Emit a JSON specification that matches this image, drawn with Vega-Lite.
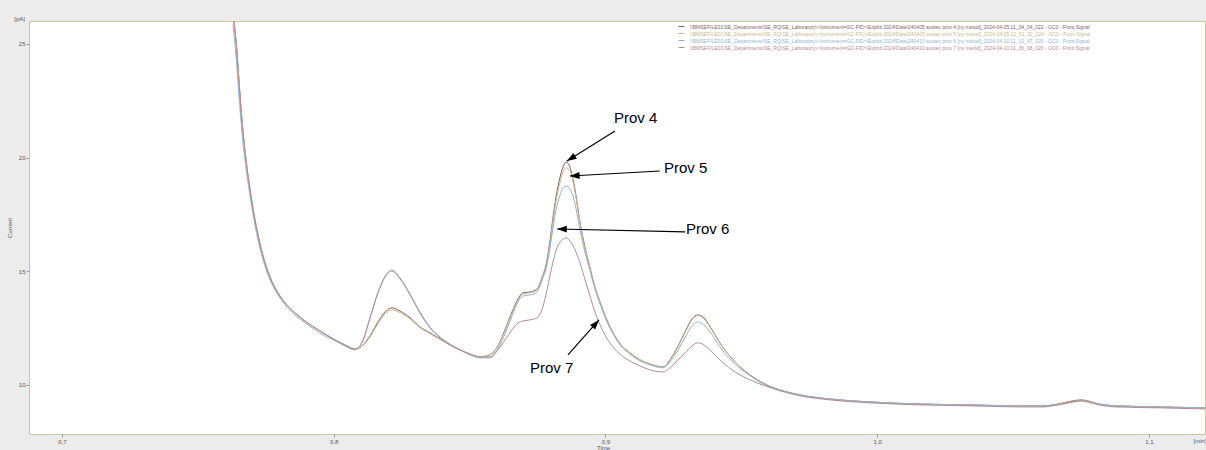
{
  "$schema": "https://vega.github.io/schema/vega-lite/v6.json",
  "width": 1176,
  "height": 413,
  "autosize": {"type": "none"},
  "padding": {"left": 29, "top": 21, "right": 1, "bottom": 16},
  "background": "#ececec",
  "config": {
    "font": "Liberation Sans",
    "view": {"fill": "white", "stroke": "#cfc49a", "strokeWidth": 1},
    "axis": {
      "domain": false,
      "grid": false,
      "tickSize": 3,
      "tickColor": "#9a9a9a",
      "labelFontSize": 6,
      "labelColor": "#555555",
      "labelPadding": 1,
      "titleFontSize": 6,
      "titleFontWeight": "normal",
      "titleColor": "#555555"
    }
  },
  "datasets": {
    "trace": [
      {"t": 0.7629, "p4": 26.28, "p5": 26.30, "p6": 25.84, "p7": 26.26},
      {"t": 0.7640, "p4": 25.18, "p5": 25.20, "p6": 24.52, "p7": 25.15},
      {"t": 0.7651, "p4": 23.42, "p5": 23.45, "p6": 22.76, "p7": 23.40},
      {"t": 0.7662, "p4": 21.66, "p5": 21.70, "p6": 21.13, "p7": 21.64},
      {"t": 0.7677, "p4": 19.90, "p5": 19.95, "p6": 19.55, "p7": 19.88},
      {"t": 0.7692, "p4": 18.58, "p5": 18.62, "p6": 18.31, "p7": 18.56},
      {"t": 0.7710, "p4": 17.26, "p5": 17.30, "p6": 17.04, "p7": 17.25},
      {"t": 0.7732, "p4": 16.03, "p5": 16.06, "p6": 15.85, "p7": 16.02},
      {"t": 0.7758, "p4": 14.97, "p5": 15.00, "p6": 14.84, "p7": 14.96},
      {"t": 0.7788, "p4": 14.18, "p5": 14.20, "p6": 14.09, "p7": 14.17},
      {"t": 0.7821, "p4": 13.61, "p5": 13.62, "p6": 13.52, "p7": 13.60},
      {"t": 0.7857, "p4": 13.17, "p5": 13.18, "p6": 13.08, "p7": 13.16},
      {"t": 0.7894, "p4": 12.81, "p5": 12.82, "p6": 12.73, "p7": 12.80},
      {"t": 0.7931, "p4": 12.51, "p5": 12.52, "p6": 12.42, "p7": 12.50},
      {"t": 0.7968, "p4": 12.24, "p5": 12.25, "p6": 12.15, "p7": 12.23},
      {"t": 0.8005, "p4": 11.98, "p5": 11.99, "p6": 11.94, "p7": 11.97},
      {"t": 0.8041, "p4": 11.76, "p5": 11.77, "p6": 11.71, "p7": 11.75},
      {"t": 0.8078, "p4": 11.58, "p5": 11.60, "p6": 11.54, "p7": 11.57},
      {"t": 0.8104, "p4": 11.71, "p5": 11.70, "p6": 11.89, "p7": 11.85},
      {"t": 0.8133, "p4": 12.15, "p5": 12.10, "p6": 12.95, "p7": 12.90},
      {"t": 0.8163, "p4": 12.77, "p5": 12.70, "p6": 14.09, "p7": 14.05},
      {"t": 0.8189, "p4": 13.21, "p5": 13.12, "p6": 14.79, "p7": 14.75},
      {"t": 0.8214, "p4": 13.39, "p5": 13.30, "p6": 15.06, "p7": 15.01},
      {"t": 0.8244, "p4": 13.25, "p5": 13.18, "p6": 14.71, "p7": 14.66},
      {"t": 0.8281, "p4": 12.95, "p5": 12.90, "p6": 14.00, "p7": 13.96},
      {"t": 0.8317, "p4": 12.55, "p5": 12.52, "p6": 13.21, "p7": 13.17},
      {"t": 0.8354, "p4": 12.29, "p5": 12.26, "p6": 12.55, "p7": 12.51},
      {"t": 0.8391, "p4": 12.02, "p5": 12.00, "p6": 12.11, "p7": 12.07},
      {"t": 0.8428, "p4": 11.76, "p5": 11.75, "p6": 11.80, "p7": 11.76},
      {"t": 0.8465, "p4": 11.54, "p5": 11.53, "p6": 11.54, "p7": 11.54},
      {"t": 0.8501, "p4": 11.36, "p5": 11.35, "p6": 11.32, "p7": 11.36},
      {"t": 0.8538, "p4": 11.23, "p5": 11.24, "p6": 11.19, "p7": 11.23},
      {"t": 0.8575, "p4": 11.32, "p5": 11.33, "p6": 11.19, "p7": 11.23},
      {"t": 0.8604, "p4": 11.71, "p5": 11.70, "p6": 11.58, "p7": 11.54},
      {"t": 0.8630, "p4": 12.42, "p5": 12.38, "p6": 12.24, "p7": 11.98},
      {"t": 0.8656, "p4": 13.21, "p5": 13.15, "p6": 13.03, "p7": 12.42},
      {"t": 0.8678, "p4": 13.78, "p5": 13.72, "p6": 13.65, "p7": 12.73},
      {"t": 0.8696, "p4": 14.05, "p5": 14.00, "p6": 13.91, "p7": 12.81},
      {"t": 0.8722, "p4": 14.09, "p5": 14.05, "p6": 13.96, "p7": 12.86},
      {"t": 0.8748, "p4": 14.22, "p5": 14.18, "p6": 14.09, "p7": 12.95},
      {"t": 0.8766, "p4": 14.71, "p5": 14.66, "p6": 14.57, "p7": 13.30},
      {"t": 0.8785, "p4": 15.50, "p5": 15.41, "p6": 15.28, "p7": 14.18},
      {"t": 0.8796, "p4": 16.38, "p5": 16.25, "p6": 16.03, "p7": 14.84},
      {"t": 0.8807, "p4": 17.39, "p5": 17.21, "p6": 16.91, "p7": 15.41},
      {"t": 0.8818, "p4": 18.27, "p5": 18.09, "p6": 17.70, "p7": 15.90},
      {"t": 0.8833, "p4": 19.15, "p5": 18.93, "p6": 18.36, "p7": 16.29},
      {"t": 0.8844, "p4": 19.59, "p5": 19.37, "p6": 18.67, "p7": 16.42},
      {"t": 0.8855, "p4": 19.81, "p5": 19.55, "p6": 18.75, "p7": 16.47},
      {"t": 0.8869, "p4": 19.59, "p5": 19.42, "p6": 18.62, "p7": 16.33},
      {"t": 0.8888, "p4": 18.58, "p5": 18.49, "p6": 17.96, "p7": 15.94},
      {"t": 0.8906, "p4": 17.17, "p5": 17.13, "p6": 16.82, "p7": 15.37},
      {"t": 0.8925, "p4": 16.03, "p5": 15.98, "p6": 15.81, "p7": 14.62},
      {"t": 0.8943, "p4": 15.15, "p5": 15.15, "p6": 15.02, "p7": 13.91},
      {"t": 0.8961, "p4": 14.31, "p5": 14.31, "p6": 14.22, "p7": 13.21},
      {"t": 0.8980, "p4": 13.65, "p5": 13.65, "p6": 13.56, "p7": 12.64},
      {"t": 0.9002, "p4": 12.95, "p5": 12.95, "p6": 12.86, "p7": 12.11},
      {"t": 0.9028, "p4": 12.29, "p5": 12.29, "p6": 12.24, "p7": 11.67},
      {"t": 0.9057, "p4": 11.76, "p5": 11.76, "p6": 11.71, "p7": 11.32},
      {"t": 0.9090, "p4": 11.41, "p5": 11.41, "p6": 11.36, "p7": 11.05},
      {"t": 0.9127, "p4": 11.10, "p5": 11.10, "p6": 11.05, "p7": 10.83},
      {"t": 0.9164, "p4": 10.92, "p5": 10.92, "p6": 10.88, "p7": 10.66},
      {"t": 0.9212, "p4": 10.79, "p5": 10.79, "p6": 10.75, "p7": 10.57},
      {"t": 0.9237, "p4": 11.10, "p5": 11.08, "p6": 11.01, "p7": 10.75},
      {"t": 0.9267, "p4": 11.71, "p5": 11.68, "p6": 11.54, "p7": 11.10},
      {"t": 0.9296, "p4": 12.42, "p5": 12.38, "p6": 12.15, "p7": 11.45},
      {"t": 0.9318, "p4": 12.90, "p5": 12.86, "p6": 12.60, "p7": 11.71},
      {"t": 0.9340, "p4": 13.08, "p5": 13.05, "p6": 12.77, "p7": 11.85},
      {"t": 0.9362, "p4": 12.95, "p5": 12.92, "p6": 12.64, "p7": 11.76},
      {"t": 0.9392, "p4": 12.42, "p5": 12.40, "p6": 12.20, "p7": 11.45},
      {"t": 0.9429, "p4": 11.71, "p5": 11.70, "p6": 11.54, "p7": 11.01},
      {"t": 0.9477, "p4": 11.01, "p5": 11.00, "p6": 10.92, "p7": 10.57},
      {"t": 0.9532, "p4": 10.44, "p5": 10.43, "p6": 10.40, "p7": 10.22},
      {"t": 0.9587, "p4": 10.04, "p5": 10.03, "p6": 10.00, "p7": 9.96},
      {"t": 0.9642, "p4": 9.78, "p5": 9.77, "p6": 9.78, "p7": 9.74},
      {"t": 0.9716, "p4": 9.56, "p5": 9.55, "p6": 9.56, "p7": 9.52},
      {"t": 0.9826, "p4": 9.38, "p5": 9.37, "p6": 9.38, "p7": 9.34},
      {"t": 0.9973, "p4": 9.25, "p5": 9.24, "p6": 9.25, "p7": 9.21},
      {"t": 1.0157, "p4": 9.16, "p5": 9.15, "p6": 9.16, "p7": 9.12},
      {"t": 1.0341, "p4": 9.12, "p5": 9.11, "p6": 9.12, "p7": 9.08},
      {"t": 1.0525, "p4": 9.08, "p5": 9.07, "p6": 9.08, "p7": 9.03},
      {"t": 1.0610, "p4": 9.08, "p5": 9.07, "p6": 9.08, "p7": 9.03},
      {"t": 1.0665, "p4": 9.16, "p5": 9.15, "p6": 9.12, "p7": 9.12},
      {"t": 1.0720, "p4": 9.30, "p5": 9.28, "p6": 9.25, "p7": 9.25},
      {"t": 1.0750, "p4": 9.34, "p5": 9.32, "p6": 9.30, "p7": 9.30},
      {"t": 1.0775, "p4": 9.30, "p5": 9.29, "p6": 9.25, "p7": 9.25},
      {"t": 1.0815, "p4": 9.16, "p5": 9.15, "p6": 9.16, "p7": 9.12},
      {"t": 1.0880, "p4": 9.08, "p5": 9.07, "p6": 9.08, "p7": 9.03},
      {"t": 1.1041, "p4": 9.03, "p5": 9.02, "p6": 9.03, "p7": 8.99},
      {"t": 1.1210, "p4": 8.99, "p5": 8.98, "p6": 8.99, "p7": 8.94}
    ],
    "names": [
      {"key": "p4", "name": "\\\\BMSEFILE01\\SE_Departments\\SE_RQ\\SE_Laboratory\\<Instrument=GC-FID>\\Expbb 2024\\Data\\240405 axotec prov 4 [ny metod]_2024-04-05 11_34_04_022 - GC0 - Front Signal"},
      {"key": "p5", "name": "\\\\BMSEFILE01\\SE_Departments\\SE_RQ\\SE_Laboratory\\<Instrument=GC-FID>\\Expbb 2024\\Data\\240405 axotec prov 5 [ny metod]_2024-04-05 12_51_32_024 - GC0 - Front Signal"},
      {"key": "p6", "name": "\\\\BMSEFILE01\\SE_Departments\\SE_RQ\\SE_Laboratory\\<Instrument=GC-FID>\\Expbb 2024\\Data\\240410 axotec prov 6 [ny metod]_2024-04-10 11_12_47_025 - GC0 - Front Signal"},
      {"key": "p7", "name": "\\\\BMSEFILE01\\SE_Departments\\SE_RQ\\SE_Laboratory\\<Instrument=GC-FID>\\Expbb 2024\\Data\\240410 axotec prov 7 [ny metod]_2024-04-10 11_36_08_026 - GC0 - Front Signal"}
    ],
    "notes": [
      {"label": "Prov 4", "tx": 0.9031, "ty": 21.74, "x0": 0.9035, "y0": 21.17, "x1": 0.8858, "y1": 19.85},
      {"label": "Prov 5", "tx": 0.9215, "ty": 19.55, "x0": 0.9200, "y0": 19.41, "x1": 0.8869, "y1": 19.19},
      {"label": "Prov 6", "tx": 0.9296, "ty": 16.86, "x0": 0.9293, "y0": 16.73, "x1": 0.8822, "y1": 16.86},
      {"label": "Prov 7", "tx": 0.8722, "ty": 10.75, "x0": 0.8862, "y0": 11.32, "x1": 0.8976, "y1": 12.86}
    ],
    "units": [
      {"label": "[pA]", "ux": 0.6844, "uy": 26.10},
      {"label": "[min]", "ux": 1.1188, "uy": 7.53}
    ]
  },
  "layer": [
    {
      "data": {"name": "trace"},
      "transform": [
        {"fold": ["p4", "p5", "p6", "p7"], "as": ["key", "current"]},
        {"lookup": "key", "from": {"data": {"name": "names"}, "key": "key", "fields": ["name"]}}
      ],
      "mark": {"type": "line", "strokeWidth": 1, "interpolate": "monotone", "clip": true},
      "encoding": {
        "x": {
          "field": "t", "type": "quantitative",
          "scale": {"domain": [0.68786, 1.12061], "nice": false, "zero": false},
          "axis": {
            "values": [0.7, 0.8, 0.9, 1.0, 1.1],
            "labelExpr": "replace(format(datum.value, '.1f'), '.', ',')",
            "title": "Time",
            "titleX": 574,
            "titleY": 13,
            "titleBaseline": "middle"
          }
        },
        "y": {
          "field": "current", "type": "quantitative",
          "scale": {"domain": [7.84, 26.01], "nice": false, "zero": false},
          "axis": {
            "values": [10, 15, 20, 25],
            "format": "d",
            "title": "Current",
            "titleX": -17
          }
        },
        "color": {
          "field": "name", "type": "nominal",
          "scale": {
            "domain": [
              "\\\\BMSEFILE01\\SE_Departments\\SE_RQ\\SE_Laboratory\\<Instrument=GC-FID>\\Expbb 2024\\Data\\240405 axotec prov 4 [ny metod]_2024-04-05 11_34_04_022 - GC0 - Front Signal",
              "\\\\BMSEFILE01\\SE_Departments\\SE_RQ\\SE_Laboratory\\<Instrument=GC-FID>\\Expbb 2024\\Data\\240405 axotec prov 5 [ny metod]_2024-04-05 12_51_32_024 - GC0 - Front Signal",
              "\\\\BMSEFILE01\\SE_Departments\\SE_RQ\\SE_Laboratory\\<Instrument=GC-FID>\\Expbb 2024\\Data\\240410 axotec prov 6 [ny metod]_2024-04-10 11_12_47_025 - GC0 - Front Signal",
              "\\\\BMSEFILE01\\SE_Departments\\SE_RQ\\SE_Laboratory\\<Instrument=GC-FID>\\Expbb 2024\\Data\\240410 axotec prov 7 [ny metod]_2024-04-10 11_36_08_026 - GC0 - Front Signal"
            ],
            "range": ["#8a5d5d", "#c9b98a", "#8cb6d6", "#b98a94"]
          },
          "legend": {
            "orient": "none",
            "legendX": 649,
            "legendY": 2,
            "title": null,
            "symbolType": "stroke",
            "symbolStrokeWidth": 1,
            "symbolSize": 36,
            "labelFontSize": 5,
            "labelLimit": 0,
            "rowPadding": 0,
            "labelOffset": 5,
            "encode": {"labels": {"update": {"fill": {"scale": "color", "field": "value"}}}}
          }
        }
      }
    },
    {
      "data": {"name": "notes"},
      "mark": {"type": "rule", "color": "black", "strokeWidth": 1.2},
      "encoding": {
        "x": {"field": "x0", "type": "quantitative", "scale": {"domain": [0.68786, 1.12061], "nice": false, "zero": false}},
        "y": {"field": "y0", "type": "quantitative", "scale": {"domain": [7.84, 26.01], "nice": false, "zero": false}},
        "x2": {"field": "x1"},
        "y2": {"field": "y1"}
      }
    },
    {
      "data": {"name": "notes"},
      "transform": [{"filter": "datum.label == 'Prov 4'"}],
      "mark": {"type": "point", "shape": "M0,0L-0.6,1.7L0.6,1.7Z", "filled": true, "color": "black", "opacity": 1, "size": 130, "angle": 238},
      "encoding": {
        "x": {"field": "x1", "type": "quantitative", "scale": {"domain": [0.68786, 1.12061], "nice": false, "zero": false}},
        "y": {"field": "y1", "type": "quantitative", "scale": {"domain": [7.84, 26.01], "nice": false, "zero": false}}
      }
    },
    {
      "data": {"name": "notes"},
      "transform": [{"filter": "datum.label == 'Prov 5'"}],
      "mark": {"type": "point", "shape": "M0,0L-0.6,1.7L0.6,1.7Z", "filled": true, "color": "black", "opacity": 1, "size": 130, "angle": 267},
      "encoding": {
        "x": {"field": "x1", "type": "quantitative", "scale": {"domain": [0.68786, 1.12061], "nice": false, "zero": false}},
        "y": {"field": "y1", "type": "quantitative", "scale": {"domain": [7.84, 26.01], "nice": false, "zero": false}}
      }
    },
    {
      "data": {"name": "notes"},
      "transform": [{"filter": "datum.label == 'Prov 6'"}],
      "mark": {"type": "point", "shape": "M0,0L-0.6,1.7L0.6,1.7Z", "filled": true, "color": "black", "opacity": 1, "size": 130, "angle": 271},
      "encoding": {
        "x": {"field": "x1", "type": "quantitative", "scale": {"domain": [0.68786, 1.12061], "nice": false, "zero": false}},
        "y": {"field": "y1", "type": "quantitative", "scale": {"domain": [7.84, 26.01], "nice": false, "zero": false}}
      }
    },
    {
      "data": {"name": "notes"},
      "transform": [{"filter": "datum.label == 'Prov 7'"}],
      "mark": {"type": "point", "shape": "M0,0L-0.6,1.7L0.6,1.7Z", "filled": true, "color": "black", "opacity": 1, "size": 130, "angle": 41.5},
      "encoding": {
        "x": {"field": "x1", "type": "quantitative", "scale": {"domain": [0.68786, 1.12061], "nice": false, "zero": false}},
        "y": {"field": "y1", "type": "quantitative", "scale": {"domain": [7.84, 26.01], "nice": false, "zero": false}}
      }
    },
    {
      "data": {"name": "notes"},
      "mark": {"type": "text", "align": "left", "baseline": "middle", "fontSize": 15, "color": "black", "font": "Liberation Sans"},
      "encoding": {
        "x": {"field": "tx", "type": "quantitative", "scale": {"domain": [0.68786, 1.12061], "nice": false, "zero": false}},
        "y": {"field": "ty", "type": "quantitative", "scale": {"domain": [7.84, 26.01], "nice": false, "zero": false}},
        "text": {"field": "label"}
      }
    },
    {
      "data": {"name": "units"},
      "mark": {"type": "text", "align": "center", "baseline": "middle", "fontSize": 6, "color": "#555555"},
      "encoding": {
        "x": {"field": "ux", "type": "quantitative", "scale": {"domain": [0.68786, 1.12061], "nice": false, "zero": false}},
        "y": {"field": "uy", "type": "quantitative", "scale": {"domain": [7.84, 26.01], "nice": false, "zero": false}},
        "text": {"field": "label"}
      }
    }
  ]
}
